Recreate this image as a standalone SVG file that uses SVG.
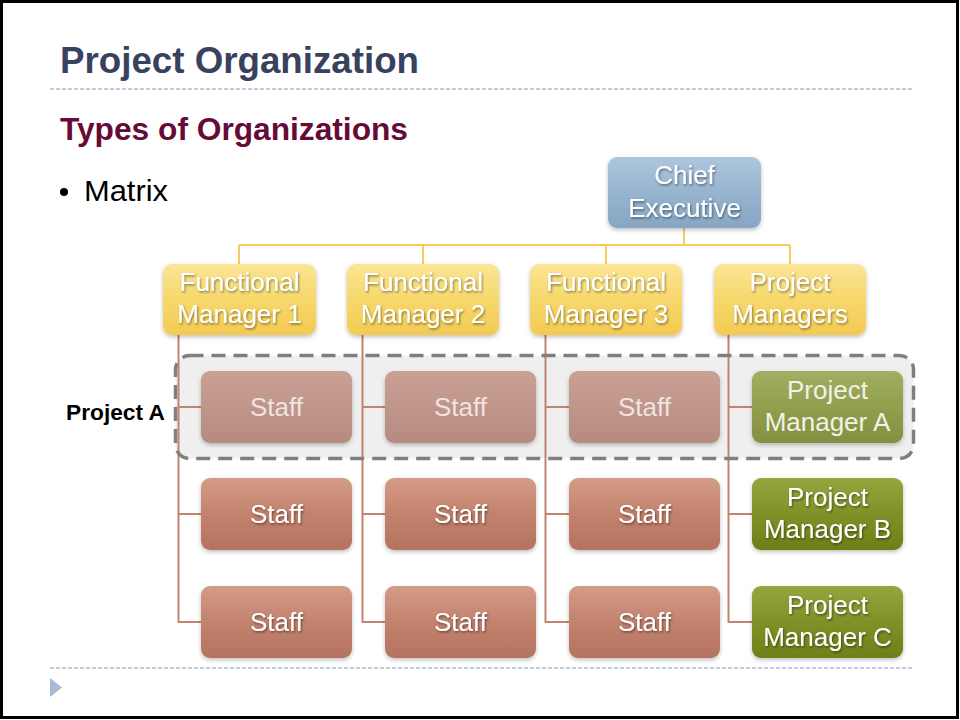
<svg xmlns="http://www.w3.org/2000/svg" width="960" height="720" viewBox="0 0 960 720">
<defs>
<linearGradient id="gBlue" x1="0" y1="0" x2="0" y2="1"><stop offset="0" stop-color="#adc6dc"/><stop offset="0.5" stop-color="#96b4cf"/><stop offset="1" stop-color="#86a6c3"/></linearGradient>
<linearGradient id="gYel" x1="0" y1="0" x2="0" y2="1"><stop offset="0" stop-color="#fbe596"/><stop offset="0.5" stop-color="#f7d86c"/><stop offset="1" stop-color="#f2ca52"/></linearGradient>
<linearGradient id="gBrown" x1="0" y1="0" x2="0" y2="1"><stop offset="0" stop-color="#d49c88"/><stop offset="0.5" stop-color="#c2826d"/><stop offset="1" stop-color="#b47360"/></linearGradient>
<linearGradient id="gBrownF" x1="0" y1="0" x2="0" y2="1"><stop offset="0" stop-color="#cba196"/><stop offset="0.5" stop-color="#c0958a"/><stop offset="1" stop-color="#b68a7f"/></linearGradient>
<linearGradient id="gOlive" x1="0" y1="0" x2="0" y2="1"><stop offset="0" stop-color="#94a63e"/><stop offset="0.5" stop-color="#7f9127"/><stop offset="1" stop-color="#6e7f18"/></linearGradient>
<linearGradient id="gOliveF" x1="0" y1="0" x2="0" y2="1"><stop offset="0" stop-color="#a2ae62"/><stop offset="0.5" stop-color="#929f4e"/><stop offset="1" stop-color="#848f40"/></linearGradient>
<filter id="boxSh" x="-10%" y="-10%" width="120%" height="130%"><feDropShadow dx="0" dy="2" stdDeviation="2" flood-color="#000" flood-opacity="0.25"/></filter>
<filter id="txtSh" x="-10%" y="-20%" width="120%" height="150%"><feDropShadow dx="1" dy="1.5" stdDeviation="0.8" flood-color="#000" flood-opacity="0.45"/></filter>
<style>
.box{filter:url(#boxSh)}
.nt{font-family:"Liberation Sans",Arial,sans-serif;font-size:26px;fill:#ffffff;text-anchor:middle;filter:url(#txtSh)}
.ntf{font-family:"Liberation Sans",Arial,sans-serif;font-size:26px;fill:#efe4e0;text-anchor:middle}
.yl{stroke:#f5cd5f;stroke-width:2;fill:none}
.bl{stroke:#c0846f;stroke-width:2;fill:none}
.dash{stroke:#a8c0d4;stroke-width:1.5;stroke-dasharray:4 2;fill:none}
</style>
</defs>
<rect x="0" y="0" width="960" height="720" fill="#ffffff"/>
<rect x="1.5" y="1.5" width="956" height="716" fill="none" stroke="#000" stroke-width="3"/>

<text x="60" y="73" font-family="Liberation Sans,Arial,sans-serif" font-weight="bold" font-size="37" fill="#38425f" textLength="359" lengthAdjust="spacingAndGlyphs">Project Organization</text>
<line class="dash" x1="50" y1="89" x2="913" y2="89"/>
<text x="60" y="140" font-family="Liberation Sans,Arial,sans-serif" font-weight="bold" font-size="31" fill="#660a36" textLength="348" lengthAdjust="spacingAndGlyphs">Types of Organizations</text>
<circle cx="64" cy="192" r="4" fill="#000"/>
<text x="84" y="201" font-family="Liberation Sans,Arial,sans-serif" font-size="29" fill="#000" textLength="84" lengthAdjust="spacingAndGlyphs">Matrix</text>
<text x="66" y="420" font-family="Liberation Sans,Arial,sans-serif" font-weight="bold" font-size="22" fill="#000" textLength="99" lengthAdjust="spacingAndGlyphs">Project A</text>

<rect id="projectA-bg" x="175.5" y="355.5" width="738" height="103" rx="14" fill="#efefef"/>

<g id="connectors">
<path class="yl" d="M684 228V245M239 245H790M239 245V264M423 245V264M606 245V264M790 245V264"/>
<path class="bl" d="M178.5 335V622H201M178.5 407H201M178.5 514H201"/>
<path class="bl" d="M362.5 335V622H385M362.5 407H385M362.5 514H385"/>
<path class="bl" d="M545.5 335V622H569M545.5 407H569M545.5 514H569"/>
<path class="bl" d="M728.5 335V622H752M728.5 407H752M728.5 514H752"/>
</g>

<g id="chief"><rect class="box" x="608" y="157" width="153" height="71" rx="9" fill="url(#gBlue)"/><text class="nt" x="684.5" y="184">Chief</text><text class="nt" x="684.5" y="217">Executive</text></g>

<g id="fm1"><rect class="box" x="163" y="264" width="153" height="71" rx="9" fill="url(#gYel)"/><text class="nt" x="239.5" y="291">Functional</text><text class="nt" x="239.5" y="323">Manager 1</text></g>
<g id="fm2"><rect class="box" x="347" y="264" width="152" height="71" rx="9" fill="url(#gYel)"/><text class="nt" x="423" y="291">Functional</text><text class="nt" x="423" y="323">Manager 2</text></g>
<g id="fm3"><rect class="box" x="530" y="264" width="152" height="71" rx="9" fill="url(#gYel)"/><text class="nt" x="606" y="291">Functional</text><text class="nt" x="606" y="323">Manager 3</text></g>
<g id="pms"><rect class="box" x="714" y="264" width="152" height="71" rx="9" fill="url(#gYel)"/><text class="nt" x="790" y="291">Project</text><text class="nt" x="790" y="323">Managers</text></g>

<g id="staff-1a"><rect class="box" x="201" y="371" width="151" height="72" rx="9" fill="url(#gBrownF)"/><text class="ntf" x="276.5" y="416">Staff</text></g>
<g id="staff-2a"><rect class="box" x="385" y="371" width="151" height="72" rx="9" fill="url(#gBrownF)"/><text class="ntf" x="460.5" y="416">Staff</text></g>
<g id="staff-3a"><rect class="box" x="569" y="371" width="151" height="72" rx="9" fill="url(#gBrownF)"/><text class="ntf" x="644.5" y="416">Staff</text></g>
<g id="pm-a"><rect class="box" x="752" y="371" width="151" height="72" rx="9" fill="url(#gOliveF)"/><text class="ntf" x="827.5" y="399" style="fill:#f1f2e6">Project</text><text class="ntf" x="827.5" y="431" style="fill:#f1f2e6">Manager A</text></g>

<g id="staff-1b"><rect class="box" x="201" y="478" width="151" height="72" rx="9" fill="url(#gBrown)"/><text class="nt" x="276.5" y="523">Staff</text></g>
<g id="staff-2b"><rect class="box" x="385" y="478" width="151" height="72" rx="9" fill="url(#gBrown)"/><text class="nt" x="460.5" y="523">Staff</text></g>
<g id="staff-3b"><rect class="box" x="569" y="478" width="151" height="72" rx="9" fill="url(#gBrown)"/><text class="nt" x="644.5" y="523">Staff</text></g>
<g id="pm-b"><rect class="box" x="752" y="478" width="151" height="72" rx="9" fill="url(#gOlive)"/><text class="nt" x="827.5" y="506">Project</text><text class="nt" x="827.5" y="538">Manager B</text></g>

<g id="staff-1c"><rect class="box" x="201" y="586" width="151" height="72" rx="9" fill="url(#gBrown)"/><text class="nt" x="276.5" y="631">Staff</text></g>
<g id="staff-2c"><rect class="box" x="385" y="586" width="151" height="72" rx="9" fill="url(#gBrown)"/><text class="nt" x="460.5" y="631">Staff</text></g>
<g id="staff-3c"><rect class="box" x="569" y="586" width="151" height="72" rx="9" fill="url(#gBrown)"/><text class="nt" x="644.5" y="631">Staff</text></g>
<g id="pm-c"><rect class="box" x="752" y="586" width="151" height="72" rx="9" fill="url(#gOlive)"/><text class="nt" x="827.5" y="614">Project</text><text class="nt" x="827.5" y="646">Manager C</text></g>

<rect id="projectA" x="175.5" y="355.5" width="738" height="103" rx="14" fill="none" stroke="#7f7f7f" stroke-width="3.5" stroke-dasharray="14 8"/>

<line class="dash" x1="50" y1="668" x2="913" y2="668"/>
<polygon points="50,678 62,687.5 50,697" fill="#a6bcd4"/>
</svg>
